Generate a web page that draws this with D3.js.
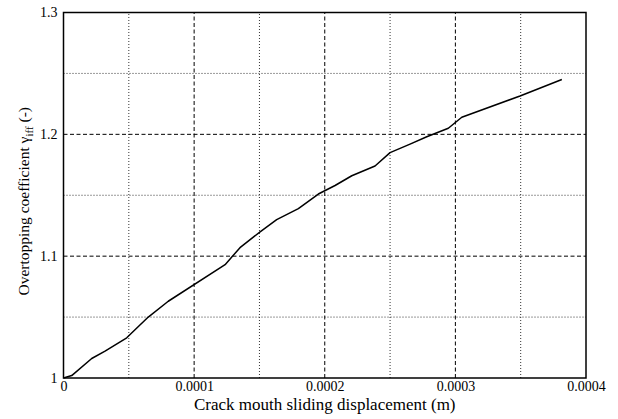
<!DOCTYPE html>
<html>
<head>
<meta charset="utf-8">
<script src="https://cdn.jsdelivr.net/npm/d3@7"></script>
<style>
  html, body { margin: 0; padding: 0; background: #fff; }
  svg { display: block; }
  text { font-family: "Liberation Serif", "Times New Roman", serif; fill: #000; }
</style>
</head>
<body>
<svg id="chart" width="618" height="419"></svg>
<script>
// Crack mouth sliding displacement (m)
const displacement = [
  0, 0.0000063, 0.0000216, 0.0000318, 0.0000484, 0.0000649, 0.0000802,
  0.0001237, 0.0001351, 0.0001505, 0.0001632, 0.0001798, 0.0001951,
  0.0002079, 0.0002207, 0.0002385, 0.0002500, 0.0002653, 0.0002781,
  0.0002946, 0.0003049, 0.0003495, 0.0003815
];
// Overtopping coefficient gamma_iff (-)
const coefficient = [
  1.000, 1.002, 1.016, 1.022, 1.033, 1.050, 1.063,
  1.093, 1.107, 1.120, 1.130, 1.139, 1.151,
  1.158, 1.166, 1.174, 1.185, 1.192, 1.198,
  1.205, 1.214, 1.2315, 1.245
];
const xMajorTicks = [0, 0.0001, 0.0002, 0.0003, 0.0004];
const xTickLabels = ["0", "0.0001", "0.0002", "0.0003", "0.0004"];
const xMinorTicks = [0.00005, 0.00015, 0.00025, 0.00035];
const yMajorTicks = [1, 1.1, 1.2, 1.3];
const yTickLabels = ["1", "1.1", "1.2", "1.3"];
const yMinorTicks = [1.05, 1.15, 1.25];

const svg = d3.select("#chart");
const margin = { left: 63.5, right: 32, top: 12.5, bottom: 41 };
const W = 618, H = 419;
const x = d3.scaleLinear().domain([0, 0.0004]).range([margin.left, W - margin.right]);
const y = d3.scaleLinear().domain([1, 1.3]).range([H - margin.bottom, margin.top]);

const grid = svg.append("g");
// minor grid: dotted
grid.selectAll(".vmin").data(xMinorTicks).enter().append("line")
  .attr("x1", d => x(d)).attr("x2", d => x(d))
  .attr("y1", y(1)).attr("y2", y(1.3))
  .attr("stroke", "#333").attr("stroke-width", 1).attr("stroke-dasharray", "1,2");
grid.selectAll(".hmin").data(yMinorTicks).enter().append("line")
  .attr("x1", x(0)).attr("x2", x(0.0004))
  .attr("y1", d => y(d)).attr("y2", d => y(d))
  .attr("stroke", "#333").attr("stroke-width", 1).attr("stroke-dasharray", "1,2");
// major grid: dashed
grid.selectAll(".vmaj").data(xMajorTicks.slice(1, -1)).enter().append("line")
  .attr("x1", d => x(d)).attr("x2", d => x(d))
  .attr("y1", y(1)).attr("y2", y(1.3))
  .attr("stroke", "#000").attr("stroke-width", 1).attr("stroke-dasharray", "4,2.5");
grid.selectAll(".hmaj").data(yMajorTicks.slice(1, -1)).enter().append("line")
  .attr("x1", x(0)).attr("x2", x(0.0004))
  .attr("y1", d => y(d)).attr("y2", d => y(d))
  .attr("stroke", "#000").attr("stroke-width", 1).attr("stroke-dasharray", "4,2.5");

// axes with tick labels
const xAxis = d3.axisBottom(x).tickValues(xMajorTicks)
  .tickFormat((d, i) => xTickLabels[i]).tickSize(0).tickPadding(3.5);
const gx = svg.append("g").attr("transform", `translate(0,${y(1)})`).call(xAxis);
gx.select(".domain").remove();
gx.selectAll("text").style("font-family", '"Liberation Serif", serif').style("font-size", "14px").attr("fill", "#000");

const yAxis = d3.axisLeft(y).tickValues(yMajorTicks)
  .tickFormat((d, i) => yTickLabels[i]).tickSize(0).tickPadding(6);
const gy = svg.append("g").attr("transform", `translate(${x(0)},0)`).call(yAxis);
gy.select(".domain").remove();
gy.selectAll("text").style("font-family", '"Liberation Serif", serif').style("font-size", "14px").attr("fill", "#000");

// data curve
const pts = displacement.map((d, i) => [d, coefficient[i]]);
svg.append("path")
  .datum(pts)
  .attr("fill", "none")
  .attr("stroke", "#000")
  .attr("stroke-width", 1.5)
  .attr("stroke-linejoin", "round")
  .attr("d", d3.line().x(d => x(d[0])).y(d => y(d[1])));

// plot frame
svg.append("rect")
  .attr("x", x(0)).attr("y", y(1.3))
  .attr("width", x(0.0004) - x(0)).attr("height", y(1) - y(1.3))
  .attr("fill", "none").attr("stroke", "#000").attr("stroke-width", 1.5);

// axis titles
svg.append("text")
  .attr("x", (x(0) + x(0.0004)) / 2).attr("y", 410)
  .attr("text-anchor", "middle").style("font-size", "17px")
  .text("Crack mouth sliding displacement (m)");

const yt = svg.append("text")
  .attr("transform", `translate(28.5,${(y(1) + y(1.3)) / 2 + 6}) rotate(-90)`)
  .attr("text-anchor", "middle").style("font-size", "15.5px");
yt.append("tspan").text("Overtopping coefficient \u03B3");
yt.append("tspan").attr("dy", 4).style("font-size", "11px").text("iff");
yt.append("tspan").attr("dy", -4).text(" (-)");
</script>
</body>
</html>
